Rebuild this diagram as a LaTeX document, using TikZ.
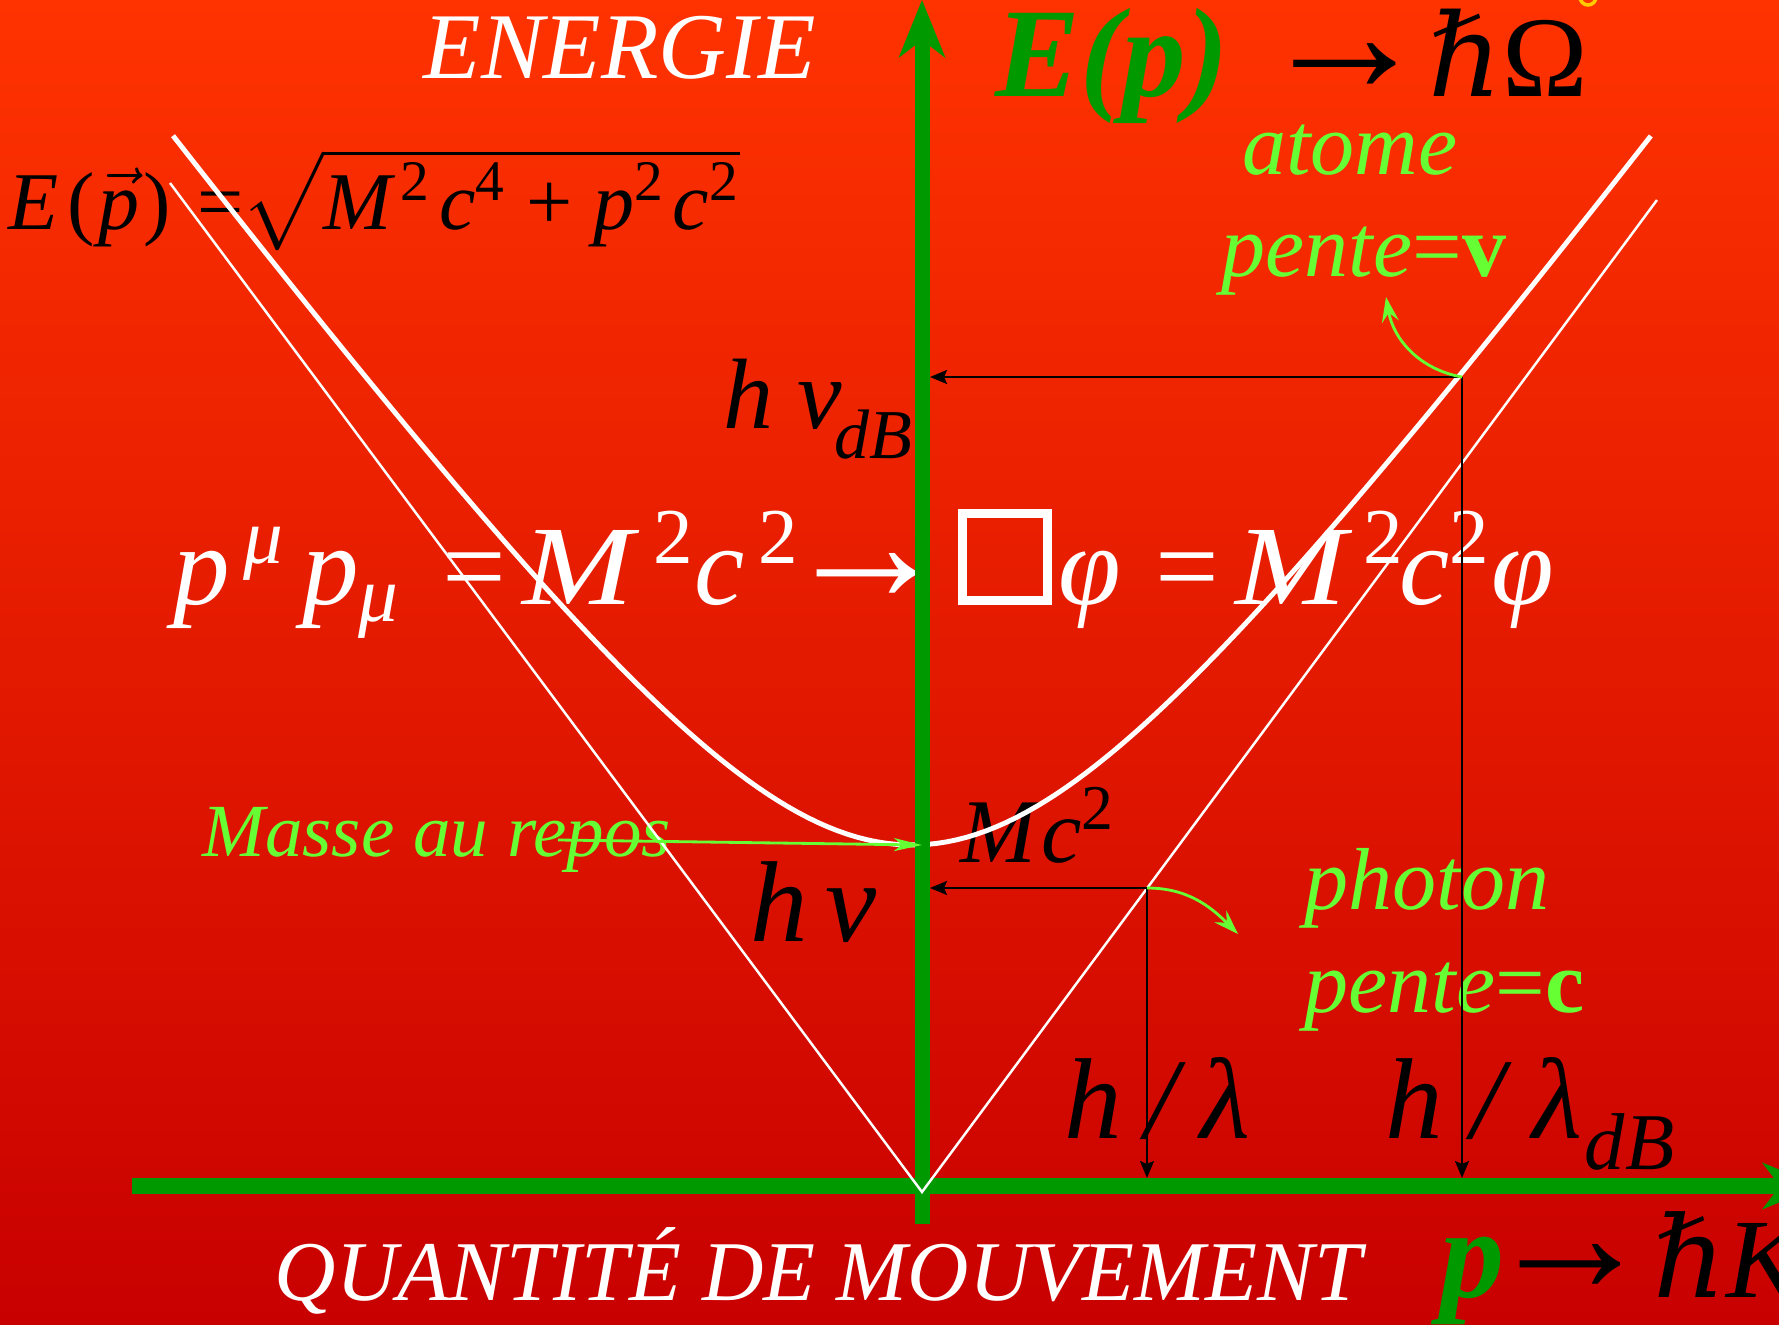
\documentclass[tikz,border=0pt]{standalone}
\usepackage{fix-cm}
\usepackage{amssymb}
\usepackage{fontspec}
\setmainfont{Liberation Serif}
\newfontfamily\planckfont{DejaVu Serif}
\usetikzlibrary{arrows.meta}
\definecolor{bgtop}{RGB}{255,51,0}\definecolor{bgbot}{RGB}{200,0,0}
\definecolor{axgreen}{RGB}{0,153,0}\definecolor{lgreen}{RGB}{102,255,51}\definecolor{ringyellow}{RGB}{255,204,0}
\newcommand{\fsize}[1]{\fontsize{#1cm}{#1cm}\selectfont}
\newcommand{\pw}[1]{\textsuperscript{\upshape#1}}
\newcommand{\hb}{{\planckfont\itshape ℏ}}
\newcommand{\mwide}{\scalebox{1.18}[1]{M}}
\begin{document}
\begin{tikzpicture}[x=0.01cm,y=0.01cm,txt/.style={inner sep=0pt,anchor=base west},bigarrow/.style={inner sep=0pt},
axis/.style={axgreen,line width=0.15cm,-{Stealth[length=0.58cm,width=0.47cm,inset=0.18cm,line width=0pt]}},
cone/.style={white,line width=0.7pt},shell/.style={white,line width=1.4pt},
proj/.style={line width=0.55pt,-{Stealth[length=0.17cm,width=0.14cm,inset=0.03cm]}},
hint/.style={lgreen,line width=0.8pt,-{Stealth[length=0.25cm,width=0.17cm,inset=0.09cm]}}]
\useasboundingbox(0,0)rectangle(1779,1324);\clip(0,0)rectangle(1779,1324);
\shade[top color=bgtop,bottom color=bgbot](0,0)rectangle(1779,1324);
\draw[ringyellow,line width=0.035cm](1588,1327)circle(8);
\node[txt,white](energie)at(423,1245){\fsize{.94}\itshape ENERGIE};
\node[txt,axgreen](epgreen)at(995,1227){\fsize{1.27}\bfseries\itshape E(p)};
\node[bigarrow](toparrow)at(1345,1256){\fsize{1.15}\scalebox{1.5}{→}};\node[txt](homega)at(1428,1227){\fsize{1.15}\hb Ω};
\node[txt](energyfml)at(8,1094){\fsize{.82}\itshape E\hspace{.1em}\textup{(}\hspace{.05em}$\vec{\hbox{\itshape p}}$\hspace{.05em}\textup{)}\hspace{.32em}\textup{=}\hspace{-.02em}$\sqrt{\hbox{\itshape M\hspace{.1em}\pw{2}\hspace{.1em}c\pw{4}\hspace{.25em}\textup{+}\hspace{.25em}p\pw{2}\hspace{.1em}c\pw{2}}}$};
\node[txt](hnudb)at(723,895){\fsize{1}\itshape h\hspace{.24em}ν\hspace{-.08em}\raisebox{-.14em}{\textsubscript{dB}}};
\node[txt,white](pmu)at(173,719){\fsize{1.13}\itshape p\hspace{.12em}\textsuperscript{μ}\hspace{.15em}p\textsubscript{μ}};
\node[txt,white](eqa)at(442,719){\fsize{1.13}=};\node[txt,white](mca)at(522,719){\fsize{1.13}\itshape\mwide\hspace{.17em}\pw{2}c\hspace{.12em}\pw{2}};
\node[bigarrow,white](arrowbox)at(867,747){\fsize{1.13}\scalebox{1.5}{→}};
\node[draw=white,line width=.09cm,minimum width=.84cm,minimum height=.86cm,inner sep=0pt](dalembert)at(1005,767){};
\node[txt,white](phia)at(1058,719){\fsize{1.13}\itshape φ};\node[txt,white](eqb)at(1155,719){\fsize{1.13}=};
\node[txt,white](mcb)at(1235,719){\fsize{1.13}\itshape\mwide\hspace{.15em}\pw{2}\hspace{-.05em}c\pw{2}φ};
\node[txt](mcsq)at(960,461){\fsize{.91}\itshape M\hspace{.05em}c\pw{2}};\node[txt](hnu)at(750,382){\fsize{1.15}\itshape h\hspace{.15em}ν};
\node[txt](hlam)at(1064,186){\fsize{1.15}\itshape h\hspace{.2em}/\hspace{.2em}λ};
\node[txt](hlamdb)at(1385,186){\fsize{1.15}\itshape h\hspace{.25em}/\hspace{.25em}λ\hspace{.02em}\raisebox{-.12em}{\textsubscript{dB}}};
\node[txt,white](quantite)at(274,24){\fsize{.85}\itshape QUANTITÉ DE MOUVEMENT};
\node[txt,axgreen](pgreen)at(1440,27){\fsize{1.28}\bfseries\itshape p};
\node[bigarrow](botarrow)at(1570,56){\fsize{1.13}\scalebox{1.5}{→}};\node[txt](hk)at(1653,27){\fsize{1.13}\hb\textit{K}};
\node[txt,lgreen](masse)at(202,467){\fsize{.75}\itshape Masse au repos};
\node[txt,lgreen,anchor=base](atome)at(1350,1149){\fsize{.88}\itshape atome};\node[txt,lgreen,anchor=base](pentev)at(1364,1047){\fsize{.88}\itshape pente\textup{=}\textbf{\upshape v}};
\node[txt,lgreen](photon)at(1304,414){\fsize{.88}\itshape photon};\node[txt,lgreen](pentec)at(1304,311){\fsize{.88}\itshape pente\textup{=}\textbf{\upshape c}};
\coordinate(origin)at(922,132);\coordinate(restpt)at(922,479);\coordinate(atompt)at(1462,947);\coordinate(photonpt)at(1147,436);
\coordinate(coneL)at(170,1141);\coordinate(coneR)at(1657,1124);\coordinate(ebot)at(922,100);\coordinate(etop)at(922,1324);
\coordinate(pleft)at(132,138);\coordinate(pright)at(1820,138);\coordinate(vax)at(930,0);\coordinate(hax)at(0,146);
\coordinate(atomtip)at(1386,1027);\coordinate(photontip)at(1238,390);\coordinate(massefrom)at(558,484);
\draw[shell]plot[domain=-7.39:7.39,samples=150]({912+100*\x},{132+100*sqrt(12.04+(1.35*\x)^2)});
\draw[axis](ebot)--(etop);\draw[axis](pleft)--(pright);
\draw[cone](coneL)--(origin)--(coneR);
\draw[proj](atompt)--(atompt -| vax);\draw[proj](atompt)--(atompt |- hax);
\draw[proj](photonpt)--(photonpt -| vax);\draw[proj](photonpt)--(photonpt |- hax);
\draw[hint](atompt)to[out=170,in=-80](atomtip);\draw[hint](photonpt)to[out=0,in=135](photontip);
\draw[hint,-{Stealth[length=.28cm,width=.13cm,inset=.08cm]}](massefrom)--(restpt);
\end{tikzpicture}
\end{document}
